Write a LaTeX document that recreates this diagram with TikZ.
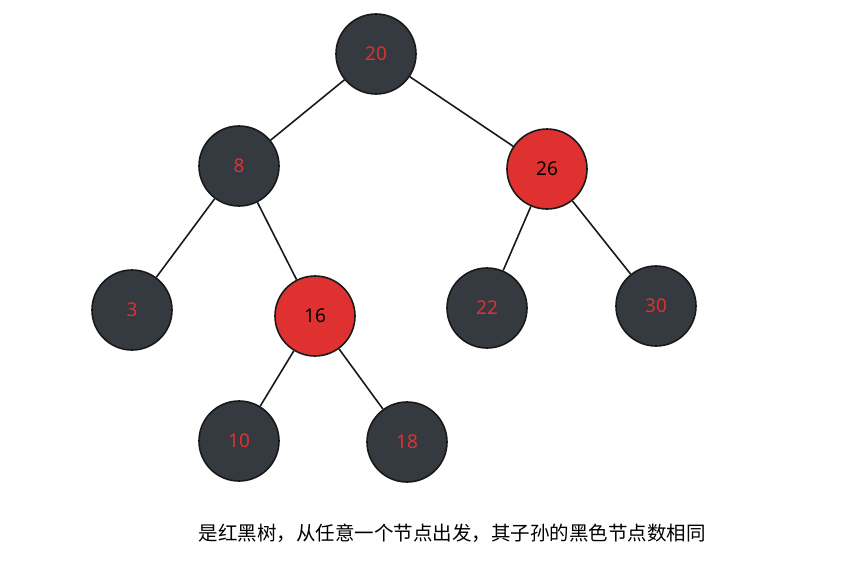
\documentclass[tikz,border=0pt]{standalone}
\usepackage{fontspec}
\newfontfamily\cjk{Noto Sans CJK SC}
\setmainfont{Noto Sans}
\definecolor{dk}{HTML}{343A40}
\definecolor{rd}{HTML}{E03131}
\begin{document}
\begin{tikzpicture}[x=1pt,y=-1pt,
  bn/.style={circle,draw=black!90,line width=1.6pt,fill=dk,minimum size=80pt,inner sep=0pt,text=rd,font=\fontsize{19}{19}\selectfont},
  rn/.style={bn,fill=rd,text=black},
  edge/.style={line width=1.6pt,draw=black!90}]
\useasboundingbox (0,0) rectangle (851,579);
\node[bn] (n20) at (376,54) {20};
\node[bn] (n8) at (239,166) {8};
\node[rn] (n26) at (547,169) {26};
\node[bn] (n3) at (132,310) {3};
\node[rn] (n16) at (315,316) {16};
\node[bn] (n22) at (487,308) {22};
\node[bn] (n30) at (656,306) {30};
\node[bn] (n10) at (239,441) {10};
\node[bn] (n18) at (407,442) {18};
\draw[edge] (n20)--(n8);
\draw[edge] (n20)--(n26);
\draw[edge] (n8)--(n3);
\draw[edge] (n8)--(n16);
\draw[edge] (n26)--(n22);
\draw[edge] (n26)--(n30);
\draw[edge] (n16)--(n10);
\draw[edge] (n16)--(n18);
\node[font=\cjk\fontsize{19.5}{20}\selectfont] (cap) at (452,533) {是红黑树，从任意一个节点出发，其子孙的黑色节点数相同};
\end{tikzpicture}
\end{document}
